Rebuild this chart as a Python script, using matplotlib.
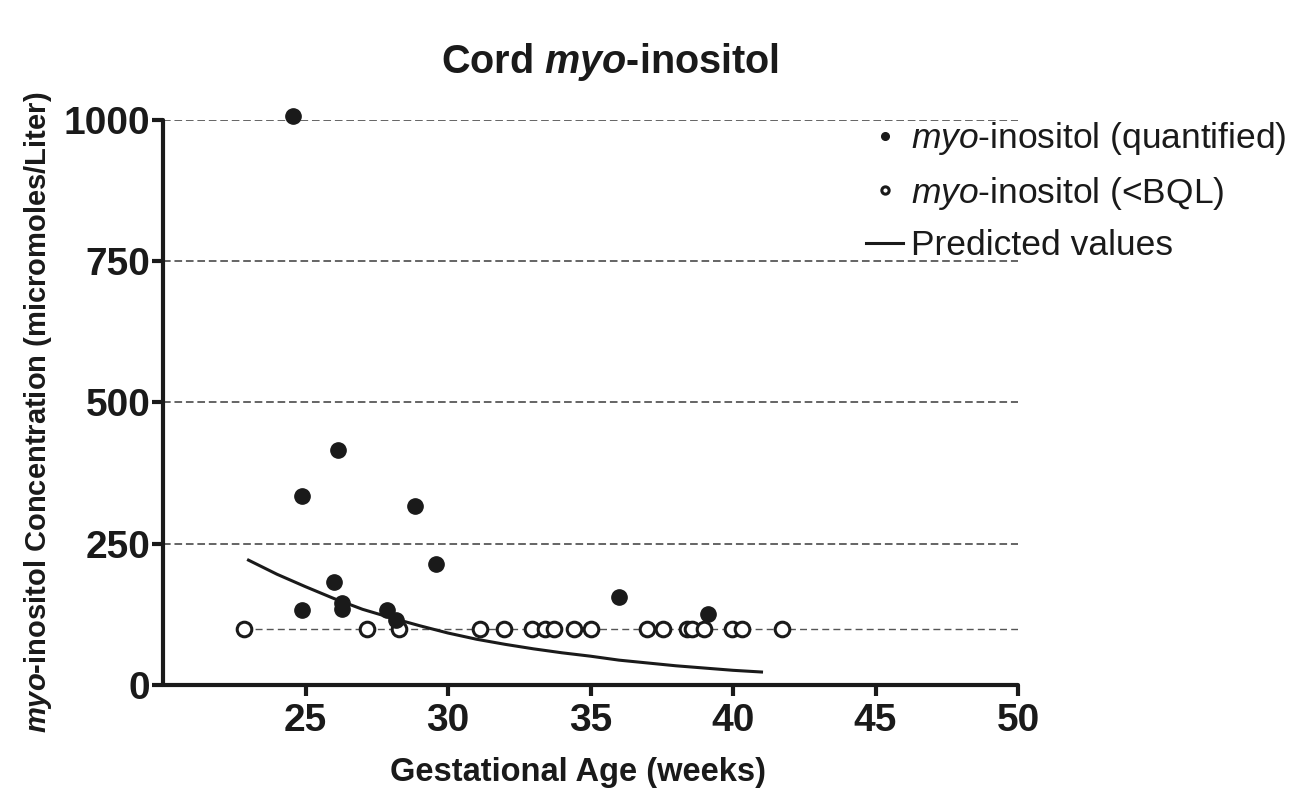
import matplotlib
matplotlib.use("Agg")
import matplotlib.pyplot as plt

plt.rcParams['font.family'] = ['Liberation Sans', 'DejaVu Sans']
plt.rcParams['mathtext.fontset'] = 'custom'
plt.rcParams['mathtext.rm'] = 'Liberation Sans'
plt.rcParams['mathtext.it'] = 'Liberation Sans:italic'
plt.rcParams['mathtext.bf'] = 'Liberation Sans:bold'
plt.rcParams['mathtext.bfit'] = 'Liberation Sans:bold:italic'

# ---- data ----
quant_x = [24.56, 26.15, 24.86, 28.84, 29.57, 26.00, 24.86, 26.29, 26.29, 27.85, 28.16, 36.00, 39.13]
quant_y = [1007, 416, 335, 316, 214, 182, 133, 145, 134, 133, 115, 156, 125]

bql_x = [22.85, 27.15, 28.28, 31.12, 31.98, 32.96, 33.42, 33.73, 34.43, 35.01,
         36.97, 37.55, 38.38, 38.55, 38.99, 39.95, 40.33, 41.71]
bql_y = [100] * len(bql_x)
bql_level = 100

pred_x = [23, 24, 25, 26, 27, 28, 29, 30, 31, 32, 33, 34, 35, 36, 37, 38, 39, 40, 41]
pred_y = [221, 196, 174, 153, 134, 119, 105, 92, 81, 72, 64, 57, 51, 44, 39, 34, 30, 26, 23]

x_ticks = [25, 30, 35, 40, 45, 50]
y_ticks = [0, 250, 500, 750, 1000]
grid_levels = [250, 500, 750, 1000]

title = r"Cord $\bfit{myo}$-inositol"
xlabel = "Gestational Age (weeks)"
ylabel = r"$\bfit{myo}$-inositol Concentration (micromoles/Liter)"
leg_labels = [r"$\it{myo}$-inositol (quantified)", r"$\it{myo}$-inositol (<BQL)", "Predicted values"]

# ---- figure ----
W, H = 1308, 798
fig = plt.figure(figsize=(W / 100, H / 100), dpi=100)
ax = fig.add_axes([163 / W, 1 - 685 / H, (1018 - 163) / W, (685 - 120) / H])

ink = '#1a1a1a'

for g in grid_levels:
    ax.axhline(g, color='#3a3a3a', lw=1.1, ls=(0, (5, 2.5)), zorder=1)
ax.hlines(bql_level, min(bql_x), 50, color='#555555', lw=1.0, ls=(0, (5, 3)), zorder=1)

h_pred, = ax.plot(pred_x, pred_y, color=ink, lw=2.2, zorder=2)
h_bql, = ax.plot(bql_x, bql_y, ls='none', marker='o', markersize=10.5, markerfacecolor='white',
                 markeredgecolor=ink, markeredgewidth=2.2, zorder=3, clip_on=False)
h_q, = ax.plot(quant_x, quant_y, ls='none', marker='o', markersize=11, color=ink, zorder=4,
               clip_on=False)

ax.set_xlim(20, 50)
ax.set_ylim(0, 1000)
ax.set_xticks(x_ticks)
ax.set_yticks(y_ticks)

for s in ['top', 'right']:
    ax.spines[s].set_visible(False)
for s in ['left', 'bottom']:
    ax.spines[s].set_linewidth(3)
    ax.spines[s].set_color(ink)
    ax.spines[s].set_capstyle('round')

ax.tick_params(axis='both', direction='out', length=8, width=3, color=ink,
               labelsize=28, labelcolor=ink)
ax.tick_params(axis='y', pad=1)
ax.tick_params(axis='x', pad=5)
for lab in ax.get_xticklabels() + ax.get_yticklabels():
    lab.set_fontweight('bold')

ax.set_xlabel(xlabel, fontsize=23.5, fontweight='bold', color=ink)
ax.xaxis.set_label_coords((578 - 163) / 855, (685 - 757) / 565)
ax.set_ylabel(ylabel, fontsize=21, fontweight='bold', color=ink)
ax.yaxis.set_label_coords((54 - 163) / 855, (685 - 412) / 565)

fig.text(610 / W, 1 - 62 / H, title, ha='center', va='center', fontsize=28.5,
         fontweight='bold', color=ink)

leg = fig.legend([h_q, h_bql, h_pred], leg_labels, loc='upper left',
                 bbox_to_anchor=(866 / W, 1 - 120 / H), frameon=False,
                 fontsize=25.5, markerscale=0.5, handlelength=1.05, handletextpad=0.22,
                 labelspacing=0.5, borderpad=0, borderaxespad=0)
for t in leg.get_texts():
    t.set_color(ink)

fig.savefig('out.png', dpi=100)
